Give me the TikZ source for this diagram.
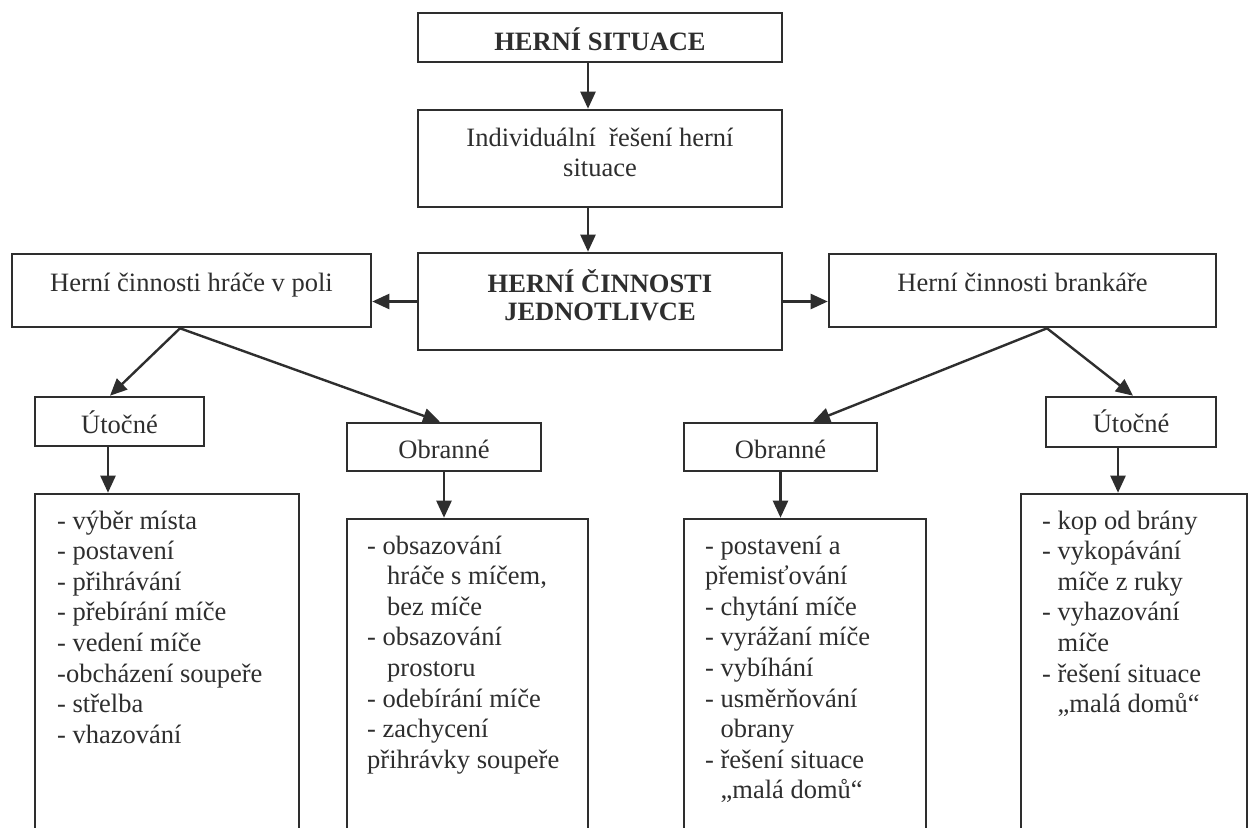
\documentclass[tikz,border=0pt]{standalone}
\usepackage{fontspec}
\setmainfont{Liberation Serif}
\usetikzlibrary{arrows.meta,calc}
\definecolor{ink}{HTML}{2E2E2E}
\newcommand\ind{\hspace*{15.5pt}}
\newcommand\indb{\hspace*{20pt}}
\begin{document}
\begin{tikzpicture}[x=1pt,y=-1pt,
  box/.style={draw=ink, line width=2.6pt, rectangle, inner sep=0pt},
  arr/.style={draw=ink, line width=2.4pt, -{Triangle[length=17pt,width=15pt]}},
  txt/.style={text=ink, inner sep=0pt, anchor=base, font=\fontsize{26.5}{30.6}\selectfont},
  txtb/.style={text=ink, inner sep=0pt, anchor=base, font=\fontsize{26.5}{28}\selectfont\bfseries},
  lst/.style={text=ink, inner sep=0pt, anchor=base west, font=\fontsize{26.5}{30.6}\selectfont}]
\clip (0,0) rectangle (1255,827);
\fill[white] (0,0) rectangle (1255,827);
% boxes
\node[box, minimum width=364pt, minimum height=49pt] (b1) at (600,37.5) {};
\node[box, minimum width=364pt, minimum height=97pt] (b2) at (600,158.5) {};
\node[box, minimum width=364pt, minimum height=97pt] (b3) at (600,301.5) {};
\node[box, minimum width=359pt, minimum height=73pt] (bl) at (191.5,290.5) {};
\node[box, minimum width=387pt, minimum height=73pt] (br) at (1022.5,290.5) {};
\node[box, minimum width=169pt, minimum height=49pt] (ul) at (119.5,421.5) {};
\node[box, minimum width=194pt, minimum height=48pt] (ol) at (444,447) {};
\node[box, minimum width=193pt, minimum height=48pt] (or) at (780.5,447) {};
\node[box, minimum width=170pt, minimum height=50pt] (ur) at (1131,422) {};
\node[box, minimum width=264pt, minimum height=340pt] (la) at (167,664) {};
\node[box, minimum width=241pt, minimum height=315pt] (lb) at (467.5,676.5) {};
\node[box, minimum width=242pt, minimum height=315pt] (lc) at (805,676.5) {};
\node[box, minimum width=226pt, minimum height=340pt] (ld) at (1134,664) {};
% texts
\node[txtb] (t1) at (600,50) {HERNÍ SITUACE};
\node[txt] (t2) at (600,146) {\parbox[t]{360pt}{\centering Individuální\ \ řešení herní\\ situace}};
\node[txtb] (t3) at (600,292) {\parbox[t]{360pt}{\centering HERNÍ ČINNOSTI\\ JEDNOTLIVCE}};
\node[txt] (tl) at (191.5,291) {Herní činnosti hráče v poli};
\node[txt] (tr) at (1022.5,291) {Herní činnosti brankáře};
\node[txt] (tul) at (119.5,433) {Útočné};
\node[txt] (tol) at (444,458) {Obranné};
\node[txt] (tor) at (780.5,458) {Obranné};
\node[txt] (tur) at (1131,432) {Útočné};
\node[lst] (la-t) at (57,529) {\parbox[t]{240pt}{- výběr místa\\ - postavení\\ - přihrávání\\ - přebírání míče\\ - vedení míče\\ -obcházení soupeře\\ - střelba\\ - vhazování}};
\node[lst] (lb-t) at (367,554) {\parbox[t]{220pt}{- obsazování\\ \indb hráče s míčem,\\ \indb bez míče\\ - obsazování\\ \indb prostoru\\ - odebírání míče\\ - zachycení\\ přihrávky soupeře}};
\node[lst] (lc-t) at (705,554) {\parbox[t]{220pt}{- postavení a\\ přemisťování\\ - chytání míče\\ - vyrážaní míče\\ - vybíhání\\ - usměrňování\\ \ind obrany\\ - řešení situace\\ \ind „malá domů“}};
\node[lst] (ld-t) at (1042,529) {\parbox[t]{210pt}{- kop od brány\\ - vykopávání\\ \ind míče z ruky\\ - vyhazování\\ \ind míče\\ - řešení situace\\ \ind „malá domů“}};
% connectors
\draw[arr] ([xshift=-12pt]b1.south) -- ([xshift=-12pt]b2.north);
\draw[arr] ([xshift=-12pt]b2.south) -- ([xshift=-12pt]b3.north);
\draw[arr] (b3.west) -- (b3.west -| bl.east);
\draw[arr] (b3.east) -- (b3.east -| br.west);
\draw[arr] ([xshift=-11.5pt]bl.south) -- ([xshift=-9.5pt]ul.north);
\draw[arr] ([xshift=-11.5pt]bl.south) -- ([xshift=-4pt]ol.north);
\draw[arr] ([xshift=24.5pt]br.south) -- ([xshift=32.5pt]or.north);
\draw[arr] ([xshift=24.5pt]br.south) -- ([xshift=2pt]ur.north);
\draw[arr] ([xshift=-11.5pt]ul.south) -- ([xshift=-11.5pt]ul.south |- la.north);
\draw[arr] (ol.south) -- (ol.south |- lb.north);
\draw[arr] (or.south) -- (or.south |- lc.north);
\draw[arr] ([xshift=-13pt]ur.south) -- ([xshift=-13pt]ur.south |- ld.north);
\end{tikzpicture}
\end{document}
